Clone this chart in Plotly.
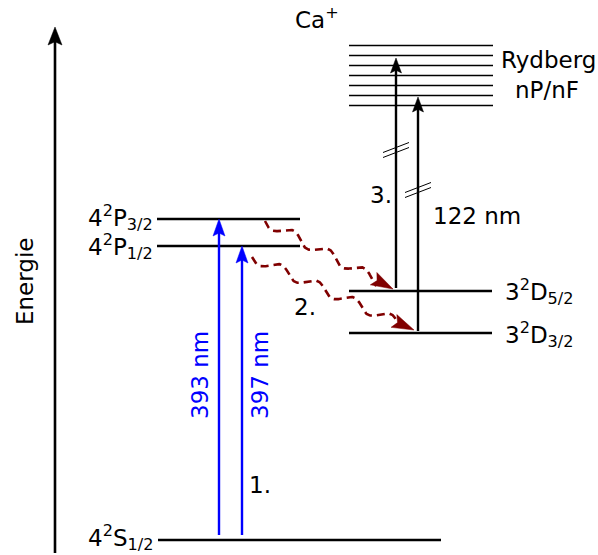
import numpy as np
import plotly.graph_objects as go

# ---- data (diagram coordinates; y grows downward, i.e. lower value = higher energy) ----
level_names = ["4S12", "4P32", "4P12", "3D52", "3D32"]
level_y = [540, 219, 246, 291, 333]
level_x0 = [158, 157, 157, 349, 349]
level_x1 = [441, 300, 300, 492, 492]
level_labels = ["4<sup>2</sup>S<sub>1/2</sub>", "4<sup>2</sup>P<sub>3/2</sub>",
                "4<sup>2</sup>P<sub>1/2</sub>", "3<sup>2</sup>D<sub>5/2</sub>",
                "3<sup>2</sup>D<sub>3/2</sub>"]
label_x = [120, 120, 120, 503, 503]
label_y = [537, 217, 246, 291, 334]
label_side = ["left", "left", "left", "right", "right"]

rydberg_y = [45, 55, 65, 75, 85, 95, 105]
rydberg_x = [349, 493]

# laser transitions: x, y_start, y_end, colour
trans_x = [219, 242, 396, 418]
trans_y0 = [535, 535, 288, 331]
trans_y1 = [219, 246, 58, 97]
trans_col = ["blue", "blue", "black", "black"]

# energy axis
axis_x = 55
axis_y0 = 553
axis_y1 = 27

# decay (wavy dashed) arrows: start, end
decay_start = [(265, 221), (252, 257)]
decay_end = [(393, 289), (414, 330)]

# break marks on the UV arrows
break_center = [(396, 150), (418, 190)]

fig = go.Figure()


def arrow(x0, y0, x1, y1, color, width, hl, hw, dash=None, path=None):
    """Straight (or given path) shaft with a filled barbed head at (x1, y1)."""
    L = np.hypot(x1 - x0, y1 - y0)
    ux, uy = (x1 - x0) / L, (y1 - y0) / L
    nx, ny = -uy, ux
    if path is None:
        sx = [x0, x1 - ux * hl * 0.6]
        sy = [y0, y1 - uy * hl * 0.6]
    else:
        sx, sy = path
    fig.add_trace(go.Scatter(x=sx, y=sy, mode="lines",
                             line=dict(color=color, width=width, dash=dash),
                             hoverinfo="skip"))
    bx, by = x1 - ux * hl, y1 - uy * hl
    nxp, nyp = x1 - ux * hl * 0.82, y1 - uy * hl * 0.82
    hx = [x1, bx + nx * hw / 2, nxp, bx - nx * hw / 2, x1]
    hy = [y1, by + ny * hw / 2, nyp, by - ny * hw / 2, y1]
    fig.add_trace(go.Scatter(x=hx, y=hy, mode="lines", fill="toself",
                             fillcolor=color, line=dict(color=color, width=0.5),
                             hoverinfo="skip"))


# energy axis
arrow(axis_x, axis_y0, axis_x, axis_y1, "black", 2.6, 18, 14)

# levels
for y, x0, x1 in zip(level_y, level_x0, level_x1):
    fig.add_trace(go.Scatter(x=[x0, x1], y=[y, y], mode="lines",
                             line=dict(color="black", width=2.6), hoverinfo="skip"))

for y in rydberg_y:
    fig.add_trace(go.Scatter(x=rydberg_x, y=[y + 0.5, y + 0.5], mode="lines",
                             line=dict(color="black", width=1.3), hoverinfo="skip"))

# transitions
for x, y0, y1, c in zip(trans_x, trans_y0, trans_y1, trans_col):
    if c == "blue":
        arrow(x, y0, x, y1, c, 2.4, 17, 12)
    else:
        arrow(x, y0, x, y1, c, 2.4, 15, 11)

# break marks
for cx, cy in break_center:
    for off in (-2.5, 2.5):
        fig.add_trace(go.Scatter(x=[cx - 13, cx + 13], y=[cy + 5 + off, cy - 5 + off],
                                 mode="lines", line=dict(color="black", width=1),
                                 hoverinfo="skip"))

# wavy decay arrows
dark_red = "#800000"
for (xs, ys), (xe, ye) in zip(decay_start, decay_end):
    L = np.hypot(xe - xs, ye - ys)
    ux, uy = (xe - xs) / L, (ye - ys) / L
    nx, ny = -uy, ux
    t = np.linspace(0, L - 16, 240)
    w = 5 * np.sin(2 * np.pi * t / 40)
    px = xs + ux * t + nx * w
    py = ys + uy * t + ny * w
    arrow(xs, ys, xe, ye, dark_red, 2.6, 22, 14, dash="8px,5px", path=(px, py))

FS = 23
font = dict(family="DejaVu Sans", size=FS, color="black")

for lab, lx, ly, side in zip(level_labels, label_x, label_y, label_side):
    fig.add_annotation(x=lx, y=ly, text=lab, showarrow=False,
                       xref="x", yref="y", font=font,
                       xanchor="center" if side == "left" else "left", yanchor="middle")

texts = [("Ca<sup>+</sup>", 317, 18), ("Rydberg", 548, 60), ("nP/nF", 547, 90),
         ("3.", 381, 195), ("122 nm", 477, 216), ("2.", 305, 307), ("1.", 260, 485)]
for t, x, y in texts:
    fig.add_annotation(x=x, y=y, text=t, showarrow=False, xref="x", yref="y", font=font,
                       xanchor="center", yanchor="middle")

fig.add_annotation(x=200, y=375, text="393 nm", showarrow=False, textangle=-90,
                   font=dict(family="DejaVu Sans", size=FS, color="blue"))
fig.add_annotation(x=260, y=375, text="397 nm", showarrow=False, textangle=-90,
                   font=dict(family="DejaVu Sans", size=FS, color="blue"))
fig.add_annotation(x=25, y=282, text="Energie", showarrow=False, textangle=-90, font=font)

fig.update_layout(
    width=598, height=555, margin=dict(l=0, r=0, t=0, b=0),
    paper_bgcolor="white", plot_bgcolor="white", showlegend=False,
    xaxis=dict(range=[0, 598], visible=False, fixedrange=True),
    yaxis=dict(range=[555, 0], visible=False, fixedrange=True),
)
fig.write_html("out.html")
